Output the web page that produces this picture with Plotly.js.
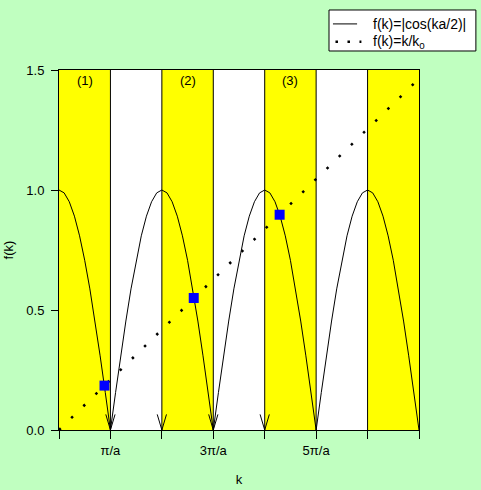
<!DOCTYPE html>
<html>
<head>
<meta charset="utf-8">
<script src="https://cdn.plot.ly/plotly-3.0.1.min.js"></script>
<style>html,body{margin:0;padding:0;background:#c0ffc0;}#chart{width:481px;height:490px;}</style>
</head>
<body>
<div id="chart"></div>
<script>
// k in units of pi/a
const kCurve = [0,0.1,0.2,0.3,0.4,0.5,0.6,0.7,0.8,0.9,1.0,
  1.1,1.2,1.3,1.4,1.5,1.6,1.7,1.8,1.9,2.0,
  2.1,2.2,2.3,2.4,2.5,2.6,2.7,2.8,2.9,3.0,
  3.1,3.2,3.3,3.4,3.5,3.6,3.7,3.8,3.9,4.0,
  4.1,4.2,4.3,4.4,4.5,4.6,4.7,4.8,4.9,5.0,
  5.1,5.2,5.3,5.4,5.5,5.6,5.7,5.8,5.9,6.0,
  6.1,6.2,6.3,6.4,6.5,6.6,6.7,6.8,6.9,7.0];
const fCurve = [1,0.988,0.951,0.891,0.809,0.707,0.588,0.454,0.309,0.156,0,
  0.156,0.309,0.454,0.588,0.707,0.809,0.891,0.951,0.988,1,
  0.988,0.951,0.891,0.809,0.707,0.588,0.454,0.309,0.156,0,
  0.156,0.309,0.454,0.588,0.707,0.809,0.891,0.951,0.988,1,
  0.988,0.951,0.891,0.809,0.707,0.588,0.454,0.309,0.156,0,
  0.156,0.309,0.454,0.588,0.707,0.809,0.891,0.951,0.988,1,
  0.988,0.951,0.891,0.809,0.707,0.588,0.454,0.309,0.156,0];
const kLine = [0, 7];
const fLine = [0, 1.464];
const kCross = [0.885, 2.62, 4.29];
const fCross = [0.185, 0.55, 0.897];
const bandStarts = [0, 2, 4, 6];
const bandLabels = ['(1)', '(2)', '(3)'];
const bandLabelK = [0.5, 2.5, 4.5];
const boundaries = [1, 2, 3, 4, 5, 6];
const arrowK = [1, 2, 3, 4];
const xTickVals = [1, 3, 5];
const xTickText = ['π/a', '3π/a', '5π/a'];
const xMinorVals = [0, 2, 4, 6, 7];
const yTickVals = [0, 0.5, 1.0, 1.5];
const yTickText = ['0.0', '0.5', '1.0', '1.5'];
const legendNames = ['f(k)=|cos(ka/2)|', 'f(k)=k/k<sub>0</sub>'];

const FONT = 'Liberation Sans, Arial, sans-serif';
const DOTS = '2.5px,14.5px';

const traces = [
  {x: kCurve, y: fCurve, mode: 'lines', name: legendNames[0],
   line: {color: 'black', width: 1}},
  {x: kLine, y: fLine, mode: 'lines', name: legendNames[1],
   line: {color: 'black', width: 2.5, dash: DOTS}},
  {x: kCross, y: fCross, mode: 'markers',
   marker: {symbol: 'square', size: 10, color: '#0000ff', line: {width: 0}}}
];

const shapes = [];
bandStarts.forEach(s => shapes.push({type: 'rect', xref: 'x', yref: 'paper',
  x0: s, x1: s + 1, y0: 0, y1: 1, fillcolor: '#ffff00', line: {width: 0}, layer: 'below'}));
boundaries.forEach(b => shapes.push({type: 'line', xref: 'x', yref: 'paper',
  x0: b, x1: b, y0: 0, y1: 1, line: {color: 'black', width: 1}, layer: 'below'}));
const aw = 0.09, ah = 0.065;
arrowK.forEach(k => shapes.push({type: 'path', xref: 'x', yref: 'y',
  path: `M ${k - aw} ${ah} L ${k} 0 L ${k + aw} ${ah}`,
  line: {color: 'black', width: 1}}));

// legend box drawn by hand (paper coords)
shapes.push({type: 'rect', xref: 'paper', yref: 'paper', x0: 0.75, x1: 1.158,
  y0: 1.0528, y1: 1.1667, fillcolor: '#ffffff', line: {color: 'black', width: 1}});
shapes.push({type: 'line', xref: 'paper', yref: 'paper', x0: 0.761, x1: 0.828,
  y0: 1.128, y1: 1.128, line: {color: 'black', width: 1}});
shapes.push({type: 'line', xref: 'paper', yref: 'paper', x0: 0.768, x1: 0.84,
  y0: 1.0785, y1: 1.0785, line: {color: 'black', width: 2.5, dash: '2.5px,9.5px'}});

const annotations = bandLabels.map((t, i) => ({
  x: bandLabelK[i], y: 0.971, xref: 'x', yref: 'paper', yanchor: 'middle',
  text: t, showarrow: false, font: {family: FONT, size: 13, color: 'black'}}));
[1.128, 1.0785].forEach((yy, i) => annotations.push({
  x: 0.866, y: yy, xref: 'paper', yref: 'paper', xanchor: 'left', yanchor: 'middle',
  text: legendNames[i], showarrow: false, font: {family: FONT, size: 14, color: 'black'}}));

const layout = {
  width: 481, height: 490,
  margin: {l: 59, r: 62, t: 70, b: 60},
  paper_bgcolor: '#c0ffc0', plot_bgcolor: '#ffffff',
  font: {family: FONT, size: 13, color: 'black'},
  showlegend: false,
  xaxis: {range: [0, 7], showgrid: false, zeroline: false, showline: true, mirror: true,
    linecolor: 'black', linewidth: 1, ticks: 'outside', ticklen: 8, tickcolor: 'black',
    tickmode: 'array', tickvals: xTickVals, ticktext: xTickText, tickfont: {size: 13},
    minor: {tickmode: 'array', tickvals: xMinorVals, ticks: 'outside', ticklen: 8,
            tickcolor: 'black', showgrid: false},
    title: {text: 'k', font: {size: 13}, standoff: 18}},
  yaxis: {range: [0, 1.5], showgrid: false, zeroline: false, showline: true, mirror: true,
    linecolor: 'black', linewidth: 1, ticks: 'outside', ticklen: 7, tickcolor: 'black',
    tickmode: 'array', tickvals: yTickVals, ticktext: yTickText, tickfont: {size: 13},
    ticklabelstandoff: 4,
    title: {text: 'f(k)', font: {size: 13}, standoff: 9}},
  shapes: shapes, annotations: annotations
};

Plotly.newPlot('chart', traces, layout, {displayModeBar: false, staticPlot: true});
</script>
</body>
</html>
